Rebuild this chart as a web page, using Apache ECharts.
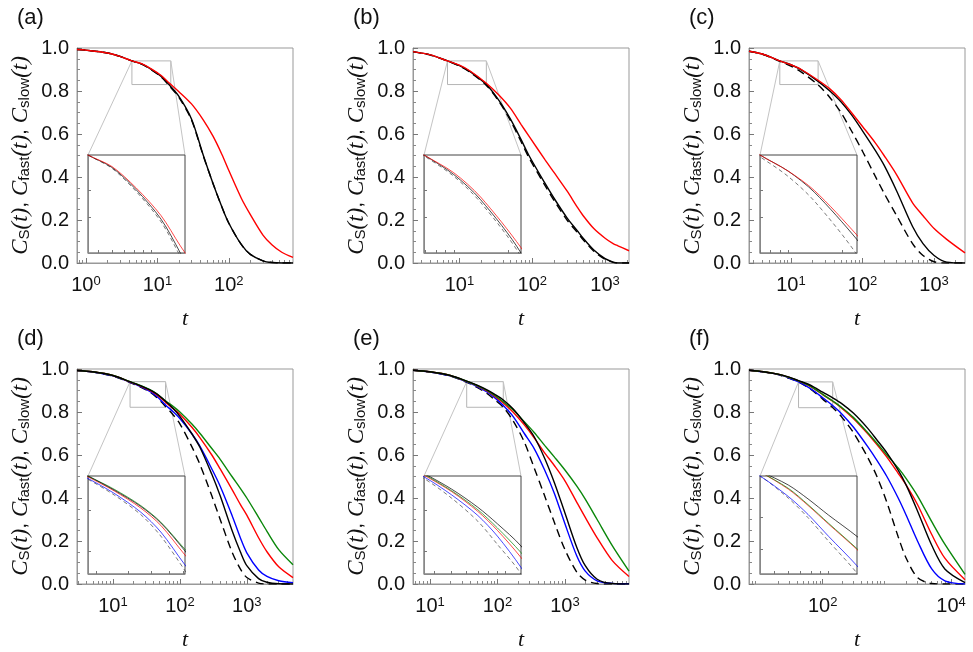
<!DOCTYPE html>
<html>
<head>
<meta charset="utf-8">
<script src="https://cdn.jsdelivr.net/npm/echarts@6/dist/echarts.min.js"></script>
<style>
html, body { margin: 0; padding: 0; background: #fff; }
#chart { width: 973px; height: 652px; }
</style>
</head>
<body>
<div id="chart"></div>
<script>
// ---- data ----
// (a)
var tA = [0.75, 1, 2, 3, 4.4, 6, 8.2, 11.3, 14.5, 20, 30, 44, 60, 80, 100, 150, 200, 300, 400, 550, 790];
var aBlack = [0.993, 0.99, 0.977, 0.961, 0.94, 0.926, 0.901, 0.868, 0.83, 0.775, 0.67, 0.5, 0.37, 0.26, 0.185, 0.085, 0.04, 0.01, 0.002, 0, 0];
var aDash  = [0.993, 0.99, 0.977, 0.961, 0.94, 0.925, 0.899, 0.865, 0.826, 0.77, 0.665, 0.497, 0.37, 0.26, 0.185, 0.085, 0.04, 0.01, 0.002, 0, 0];
var aRed   = [0.993, 0.99, 0.977, 0.961, 0.94, 0.927, 0.903, 0.872, 0.838, 0.797, 0.74, 0.665, 0.59, 0.505, 0.43, 0.3, 0.225, 0.13, 0.085, 0.05, 0.026];
// (b)
var tB = [2.3, 4, 6.85, 10, 14, 23.4, 35, 50, 70, 90, 150, 200, 300, 415, 500, 700, 1000, 1290, 1500, 2130];
var bBlack = [0.983, 0.968, 0.94, 0.918, 0.89, 0.83, 0.755, 0.67, 0.575, 0.5, 0.37, 0.3, 0.21, 0.15, 0.115, 0.06, 0.02, 0.004, 0, 0];
var bDash  = [0.983, 0.967, 0.939, 0.916, 0.887, 0.826, 0.75, 0.663, 0.565, 0.49, 0.36, 0.29, 0.2, 0.142, 0.108, 0.055, 0.017, 0.003, 0, 0];
var bRed   = [0.983, 0.968, 0.94, 0.92, 0.893, 0.836, 0.78, 0.72, 0.645, 0.59, 0.48, 0.42, 0.335, 0.26, 0.22, 0.16, 0.115, 0.09, 0.08, 0.057];
// (c)
var tC = [2.6, 4, 7, 10, 14, 24, 35, 50, 70, 100, 150, 200, 300, 500, 700, 1000, 1500, 2700];
var cBlack = [0.985, 0.972, 0.94, 0.922, 0.898, 0.845, 0.8, 0.75, 0.69, 0.615, 0.525, 0.455, 0.335, 0.17, 0.09, 0.035, 0.004, 0];
var cDash  = [0.985, 0.971, 0.938, 0.916, 0.888, 0.828, 0.77, 0.7, 0.615, 0.52, 0.405, 0.325, 0.22, 0.09, 0.035, 0.006, 0, 0];
var cRed   = [0.985, 0.972, 0.94, 0.922, 0.9, 0.85, 0.81, 0.76, 0.7, 0.635, 0.56, 0.5, 0.41, 0.28, 0.22, 0.16, 0.11, 0.047];
// (d)
var tD = [2.9, 5, 10, 18, 25, 35, 45, 61, 80, 100, 150, 200, 300, 400, 600, 800, 1000, 1500, 2000, 3000, 4900];
var dGreen = [0.993, 0.987, 0.97, 0.941, 0.925, 0.905, 0.885, 0.852, 0.825, 0.8, 0.745, 0.7, 0.63, 0.58, 0.5, 0.445, 0.4, 0.31, 0.245, 0.16, 0.09];
var dBlack = [0.993, 0.987, 0.97, 0.941, 0.924, 0.904, 0.884, 0.85, 0.815, 0.78, 0.7, 0.635, 0.51, 0.41, 0.25, 0.15, 0.085, 0.025, 0.008, 0.001, 0];
var dRed   = [0.993, 0.987, 0.97, 0.94, 0.923, 0.902, 0.881, 0.845, 0.815, 0.79, 0.73, 0.68, 0.6, 0.535, 0.44, 0.37, 0.32, 0.215, 0.15, 0.08, 0.03];
var dBlue  = [0.993, 0.986, 0.968, 0.938, 0.92, 0.897, 0.873, 0.833, 0.8, 0.77, 0.7, 0.64, 0.535, 0.455, 0.32, 0.215, 0.145, 0.065, 0.035, 0.015, 0.006];
var dDash  = [0.993, 0.986, 0.967, 0.937, 0.918, 0.894, 0.868, 0.826, 0.785, 0.745, 0.64, 0.555, 0.41, 0.3, 0.15, 0.07, 0.03, 0.004, 0, 0, 0];
// (e)
var tE = [5.6, 10, 20, 35, 50, 70, 90, 122, 170, 250, 350, 500, 700, 1000, 1500, 2000, 3000, 5000, 8900];
var eGreen = [0.994, 0.987, 0.97, 0.943, 0.923, 0.9, 0.878, 0.848, 0.81, 0.755, 0.705, 0.645, 0.59, 0.53, 0.455, 0.395, 0.3, 0.18, 0.06];
var eBlack = [0.994, 0.987, 0.97, 0.944, 0.925, 0.903, 0.883, 0.856, 0.815, 0.75, 0.685, 0.585, 0.47, 0.33, 0.17, 0.085, 0.022, 0.002, 0];
var eRed   = [0.994, 0.987, 0.97, 0.942, 0.922, 0.898, 0.875, 0.842, 0.8, 0.74, 0.68, 0.61, 0.55, 0.48, 0.38, 0.31, 0.215, 0.11, 0.035];
var eBlue  = [0.994, 0.986, 0.968, 0.94, 0.918, 0.893, 0.868, 0.83, 0.78, 0.7, 0.63, 0.53, 0.42, 0.28, 0.13, 0.06, 0.015, 0.003, 0.001];
var eDash  = [0.994, 0.986, 0.967, 0.938, 0.914, 0.886, 0.858, 0.822, 0.76, 0.66, 0.54, 0.41, 0.285, 0.16, 0.055, 0.018, 0.002, 0, 0];
// (f)
var tF = [7.1, 12, 20, 30, 42, 60, 77, 100, 143, 200, 300, 500, 700, 1000, 1500, 2000, 3000, 5000, 8000, 16500];
var fBlack = [0.994, 0.987, 0.976, 0.962, 0.946, 0.929, 0.912, 0.892, 0.866, 0.838, 0.795, 0.725, 0.67, 0.61, 0.53, 0.46, 0.34, 0.18, 0.07, 0.006];
var fGreen = [0.994, 0.987, 0.976, 0.961, 0.945, 0.925, 0.905, 0.882, 0.851, 0.82, 0.775, 0.705, 0.655, 0.6, 0.54, 0.49, 0.41, 0.29, 0.185, 0.045];
var fRed   = [0.994, 0.987, 0.976, 0.961, 0.945, 0.924, 0.904, 0.881, 0.85, 0.817, 0.77, 0.7, 0.648, 0.59, 0.515, 0.46, 0.37, 0.23, 0.12, 0.02];
var fBlue  = [0.994, 0.986, 0.975, 0.958, 0.94, 0.915, 0.893, 0.866, 0.83, 0.79, 0.73, 0.64, 0.575, 0.5, 0.4, 0.32, 0.2, 0.07, 0.015, 0];
var fDash  = [0.994, 0.986, 0.974, 0.956, 0.94, 0.913, 0.889, 0.86, 0.821, 0.775, 0.705, 0.59, 0.5, 0.38, 0.22, 0.12, 0.03, 0.002, 0, 0];

// tick labels (powers of ten) and zoom windows [t0, t1, c0, c1]
var aTicks = [1, 10, 100], bTicks = [10, 100, 1000], cTicks = [10, 100, 1000];
var dTicks = [10, 100, 1000], eTicks = [10, 100, 1000], fTicks = [100, 10000];

var panels = [
  {label: '(a)', t: tA, xr: [0.75, 790], ticks: aTicks, zoom: [4.4, 15.4, 0.83, 0.94], inY: [0.9, 0.87],
   lines: [['dash', aDash], ['black', aBlack], ['red', aRed]]},
  {label: '(b)', t: tB, xr: [2.3, 2130], ticks: bTicks, zoom: [6.85, 23.4, 0.83, 0.94], inY: [0.9, 0.87],
   lines: [['dash', bDash], ['black', bBlack], ['red', bRed]]},
  {label: '(c)', t: tC, xr: [2.6, 2700], ticks: cTicks, zoom: [7, 24, 0.83, 0.94], inY: [0.9, 0.87],
   lines: [['dash', cDash], ['black', cBlack], ['red', cRed]]},
  {label: '(d)', t: tD, xr: [2.9, 4900], ticks: dTicks, zoom: [18, 61, 0.822, 0.941], inY: [0.9, 0.85],
   lines: [['dash', dDash], ['blue', dBlue], ['red', dRed], ['green', dGreen], ['black', dBlack]]},
  {label: '(e)', t: tE, xr: [5.6, 8900], ticks: eTicks, zoom: [35, 122, 0.822, 0.941], inY: [0.9, 0.85],
   lines: [['dash', eDash], ['blue', eBlue], ['red', eRed], ['green', eGreen], ['black', eBlack]]},
  {label: '(f)', t: tF, xr: [7.1, 16500], ticks: fTicks, zoom: [42, 143, 0.82, 0.94], inY: [0.89, 0.85],
   lines: [['dash', fDash], ['blue', fBlue], ['red', fRed], ['green', fGreen], ['black', fBlack]]}
];

var colors = {black: '#000', dash: '#000', red: '#f00', blue: '#00f', green: '#0a870a'};
var colLeft = [77, 413, 749], rowTop = [48, 369], W = 216, H = 215;

function logTicks(lo, hi, minor) {
  var out = [];
  for (var e = Math.floor(Math.log10(lo)); e <= Math.ceil(Math.log10(hi)); e++) {
    for (var k = minor ? 2 : 1; k <= (minor ? 9 : 1); k++) {
      var v = k * Math.pow(10, e);
      if (v >= lo && v <= hi) out.push(v);
    }
  }
  return out;
}

var grids = [], xAxes = [], yAxes = [], series = [], titles = [];
var mainSeries = [], insetSeries = [];

panels.forEach(function (p, i) {
  var left = colLeft[i % 3], top = rowTop[Math.floor(i / 3)];
  titles.push({text: p.label, left: left - 65, top: top - 46,
    textStyle: {fontSize: 22, fontWeight: 'normal', fontFamily: 'Liberation Sans', color: '#111'}});

  // main plot
  var g = grids.length;
  grids.push({left: left, top: top, width: W, height: H, show: true, borderColor: '#999', borderWidth: 1});
  var xi = xAxes.length;
  xAxes.push({
    type: 'log', gridIndex: g, min: p.xr[0], max: p.xr[1], position: 'bottom',
    name: 't', nameLocation: 'middle', nameGap: 45,
    nameTextStyle: {fontFamily: 'Liberation Serif', fontStyle: 'italic', fontSize: 22, color: '#111'},
    axisLine: {lineStyle: {color: '#999'}},
    axisTick: {inside: true, length: 5, customValues: p.ticks, lineStyle: {color: '#777'}},
    splitLine: {show: false},
    axisLabel: {
      customValues: p.ticks, margin: 12,
      formatter: function (v) { return '{b|10}{s|' + Math.round(Math.log10(v)) + '}'; },
      rich: {
        b: {fontFamily: 'Liberation Sans', fontSize: 20, lineHeight: 20, color: '#111', verticalAlign: 'bottom'},
        s: {fontFamily: 'Liberation Sans', fontSize: 13, lineHeight: 13, color: '#111', verticalAlign: 'top', padding: [0, 0, 11, 0]}
      }
    }
  });
  xAxes.push({
    type: 'log', gridIndex: g, min: p.xr[0], max: p.xr[1], position: 'bottom',
    axisLine: {show: false}, axisLabel: {show: false}, splitLine: {show: false},
    axisTick: {inside: true, length: 3, customValues: logTicks(p.xr[0], p.xr[1], true), lineStyle: {color: '#888'}}
  });
  var yi = yAxes.length;
  yAxes.push({
    type: 'value', gridIndex: g, min: 0, max: 1, interval: 0.2,
    name: '{i|C}{s|S}{i|(t)}{n|, }{i|C}{s|fast}{i|(t)}{n|, }{i|C}{s|slow}{i|(t)}',
    nameLocation: 'middle', nameGap: 40, nameRotate: 90,
    nameTextStyle: {
      rich: {
        i: {fontFamily: 'Liberation Serif', fontStyle: 'italic', fontSize: 23, lineHeight: 23, color: '#111', verticalAlign: 'top', padding: [0, 0, 5, 0]},
        n: {fontFamily: 'Liberation Sans', fontSize: 21, lineHeight: 23, color: '#111', verticalAlign: 'top', padding: [0, 0, 5, 0]},
        s: {fontFamily: 'Liberation Sans', fontSize: 15, lineHeight: 15, color: '#111', verticalAlign: 'bottom'}
      }
    },
    axisLine: {lineStyle: {color: '#999'}},
    axisTick: {inside: true, length: 5, lineStyle: {color: '#777'}},
    minorTick: {show: true, splitNumber: 4, length: 3, lineStyle: {color: '#888'}},
    splitLine: {show: false},
    axisLabel: {fontFamily: 'Liberation Sans', fontSize: 20, color: '#111', margin: 8,
      formatter: function (v) { return v.toFixed(1); }}
  });
  mainSeries.push(series.length);
  p.lines.forEach(function (ln, k) {
    var s = {
      type: 'line', xAxisIndex: xi, yAxisIndex: yi, symbol: 'none', smooth: 0.3,
      data: p.t.map(function (x, j) { return [x, ln[1][j]]; }),
      lineStyle: {color: colors[ln[0]], width: 1.4, type: ln[0] === 'dash' ? [8, 5] : 'solid'},
      silent: true, z: 3
    };
    if (k === 0) {
      s.markArea = {silent: true, itemStyle: {color: 'rgba(0,0,0,0)', borderColor: '#b5b5b5', borderWidth: 1},
        data: [[{coord: [p.zoom[0], p.zoom[3]]}, {coord: [p.zoom[1], p.zoom[2]]}]]};
    }
    series.push(s);
  });

  // inset
  var gi = grids.length;
  grids.push({left: left + 11, top: top + 107, width: 97, height: 98, show: true,
    backgroundColor: '#fff', borderColor: '#444', borderWidth: 1, z: 5});
  var ixi = xAxes.length;
  xAxes.push({
    type: 'log', gridIndex: gi, min: p.zoom[0], max: p.zoom[1], position: 'bottom', z: 6,
    axisLine: {lineStyle: {color: '#888'}}, axisLabel: {show: false}, splitLine: {show: false},
    axisTick: {inside: true, length: 3, customValues: logTicks(p.zoom[0], p.zoom[1], false).concat(logTicks(p.zoom[0], p.zoom[1], true)), lineStyle: {color: '#777'}}
  });
  var iyi = yAxes.length;
  yAxes.push({
    type: 'value', gridIndex: gi, min: p.zoom[2], max: p.zoom[3], z: 6,
    axisLine: {lineStyle: {color: '#888'}}, axisLabel: {show: false}, splitLine: {show: false},
    axisTick: {inside: true, length: 3, customValues: p.inY, lineStyle: {color: '#777'}}
  });
  insetSeries.push(series.length);
  p.lines.forEach(function (ln) {
    series.push({
      type: 'line', xAxisIndex: ixi, yAxisIndex: iyi, symbol: 'none', smooth: 0.3,
      data: p.t.map(function (x, j) { return [x, ln[1][j]]; }),
      lineStyle: {color: ln[0] === 'dash' ? '#444' : colors[ln[0]], width: 0.9, opacity: 0.8, type: ln[0] === 'dash' ? [4, 3] : 'solid'},
      silent: true, z: 7
    });
  });
});

var chart = echarts.init(document.getElementById('chart'));
chart.setOption({
  animation: false,
  backgroundColor: '#fff',
  title: titles,
  grid: grids,
  xAxis: xAxes,
  yAxis: yAxes,
  series: series
});

// connector lines from the zoom box to the inset, placed with the chart's own scales
var links = [];
panels.forEach(function (p, i) {
  var a = chart.convertToPixel({seriesIndex: mainSeries[i]}, [p.zoom[0], p.zoom[3]]);
  var b = chart.convertToPixel({seriesIndex: mainSeries[i]}, [p.zoom[1], p.zoom[3]]);
  var c = chart.convertToPixel({seriesIndex: insetSeries[i]}, [p.zoom[0], p.zoom[3]]);
  var d = chart.convertToPixel({seriesIndex: insetSeries[i]}, [p.zoom[1], p.zoom[3]]);
  [[a, c], [b, d]].forEach(function (pr) {
    links.push({type: 'line', silent: true, z: 1,
      shape: {x1: pr[0][0], y1: pr[0][1], x2: pr[1][0], y2: pr[1][1]},
      style: {stroke: '#c4c4c4', lineWidth: 1}});
  });
});
chart.setOption({graphic: links});
</script>
</body>
</html>
